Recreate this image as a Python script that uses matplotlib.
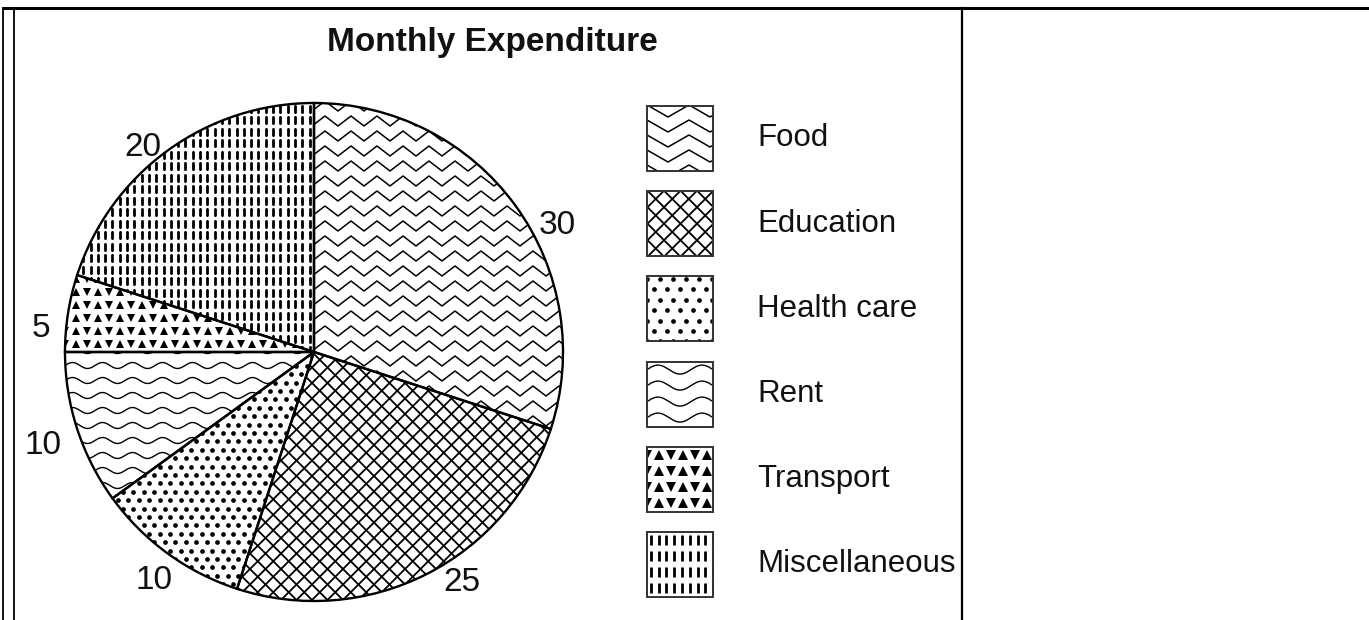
import numpy as np
import matplotlib
matplotlib.use('Agg')
import matplotlib.pyplot as plt
from matplotlib.patches import Rectangle

# chart data
categories = ['Food', 'Education', 'Health care', 'Rent', 'Transport', 'Miscellaneous']
shares = [30, 25, 10, 10, 5, 20]
title = 'Monthly Expenditure'

# label placement (angle shift from wedge middle, distance as fraction of radius)
label_shift = [-8.6, 5.6, 1, 1, 4, 4]
label_dist = [1.10, 1.10, 1.12, 1.15, 1.10, 1.07]

W, H = 1369, 620
narrow = ['Liberation Sans Narrow', 'Liberation Sans']

fig = plt.figure(figsize=(W / 100, H / 100), dpi=100)
ax = fig.add_axes([0, 0, 1, 1])


def keep(artist, clip):
    artist.set_clip_path(clip)
    return artist


def zigzag(box, clip, period, amp, gap, lw=1.1):
    x0, y0, x1, y1 = box
    xs = np.arange(x0 - period, x1 + period, period / 2)
    sign = np.where(np.arange(len(xs)) % 2 == 0, 0.5, -0.5)
    for yb in np.arange(y0 - gap, y1 + gap, gap):
        ln, = ax.plot(xs, yb + sign * amp, color='k', lw=lw, zorder=2)
        keep(ln, clip)


def cross(box, clip, step, lw=1.3):
    x0, y0, x1, y1 = box
    h = y1 - y0
    for c in np.arange(x0 - h, x1 + step, step):
        a, = ax.plot([c, c + h], [y0, y1], color='k', lw=lw, zorder=2)
        b, = ax.plot([c, c + h], [y1, y0], color='k', lw=lw, zorder=2)
        keep(a, clip)
        keep(b, clip)


def dots(box, clip, gap, ms):
    x0, y0, x1, y1 = box
    for i, yb in enumerate(np.arange(y0, y1 + gap, gap * 0.8)):
        xs = np.arange(x0 + (i % 2) * gap / 2, x1 + gap, gap)
        ln, = ax.plot(xs, np.full(len(xs), yb), 'o', color='k', ms=ms, mew=0, zorder=2)
        keep(ln, clip)


def waves(box, clip, period, amp, gap, lw=1.0):
    x0, y0, x1, y1 = box
    xs = np.linspace(x0, x1, 600)
    for yb in np.arange(y1 - gap / 2, y0 - gap, -gap):
        ln, = ax.plot(xs, yb + amp / 2 * np.sin(2 * np.pi * (xs - x0) / period),
                      color='k', lw=lw, zorder=2)
        keep(ln, clip)


def triangles(box, clip, dx, gap, ms):
    x0, y0, x1, y1 = box
    xs = np.arange(x0, x1 + dx, dx)
    for yb in np.arange(y1 - gap / 2, y0 - gap, -gap):
        down, = ax.plot(xs[0::2], np.full(len(xs[0::2]), yb), 'v', color='k',
                        ms=ms, mew=0, zorder=2)
        up, = ax.plot(xs[1::2], np.full(len(xs[1::2]), yb), '^', color='k',
                      ms=ms, mew=0, zorder=2)
        keep(down, clip)
        keep(up, clip)


def dashes(box, clip, dx, gap, ms, mew):
    x0, y0, x1, y1 = box
    for yb in np.arange(y1 - gap / 2, y0 - gap, -gap):
        xs = np.arange(x0 + dx / 2, x1 + dx, dx)
        ln, = ax.plot(xs, np.full(len(xs), yb), '|', color='k', ms=ms, mew=mew, zorder=2)
        keep(ln, clip)


def fill_pattern(name, box, clip, big=False):
    if name == 'Food':
        if big:
            zigzag(box, clip, 42, 12, 15)
        else:
            zigzag(box, clip, 26, 10, 15)
    elif name == 'Education':
        cross(box, clip, 16.5 if big else 15.5)
    elif name == 'Health care':
        dots(box, clip, 13 if big else 10.5, 3.4)
    elif name == 'Rent':
        if big:
            waves(box, clip, 44, 9, 16)
        else:
            waves(box, clip, 30, 6, 15)
    elif name == 'Transport':
        if big:
            triangles(box, clip, 12, 16, 6.5)
        else:
            triangles(box, clip, 11, 13, 5.5)
    else:
        if big:
            dashes(box, clip, 7.8, 16, 7, 2.0)
        else:
            dashes(box, clip, 7.3, 11.5, 6, 2.0)


# pie
cx, cy, r = 314, H - 352, 249
wedges, _ = ax.pie(shares, startangle=90, counterclock=False, center=(cx, cy), radius=r,
                   wedgeprops=dict(facecolor='none', edgecolor='black', linewidth=1.7, zorder=3))
pie_box = (cx - r, cy - r, cx + r, cy + r)
for w, name, val, sh, d in zip(wedges, categories, shares, label_shift, label_dist):
    fill_pattern(name, pie_box, w)
    ang = np.deg2rad((w.theta1 + w.theta2) / 2 + sh)
    ax.text(cx + d * r * np.cos(ang), cy + d * r * np.sin(ang), str(val),
            ha='center', va='center', fontsize=24, family=narrow, color='#111111')

# legend
box_x, box_w, box_h = 647, 66, 65
for i, name in enumerate(categories):
    top = 106 + i * 85.2
    y0 = H - top - box_h
    rect = Rectangle((box_x, y0), box_w, box_h, facecolor='none', edgecolor='#333333',
                     lw=1.4, zorder=3)
    ax.add_patch(rect)
    fill_pattern(name, (box_x, y0, box_x + box_w, y0 + box_h), rect, big=True)
    ax.text(757, y0 + box_h / 2, name, ha='left', va='center', fontsize=22.5,
            family=narrow, color='#111111')

ax.text(492, H - 42, title, ha='center', va='center', fontsize=24, fontweight='bold',
        family='Liberation Sans', color='#111111')

# table borders
ax.plot([2, W], [H - 8, H - 8], color='k', lw=2.2, solid_capstyle='butt')
ax.plot([3, 3], [0, H - 8], color='k', lw=1.3)
ax.plot([14, 14], [0, H - 8], color='k', lw=1.3)
ax.plot([962, 962], [0, H - 8], color='k', lw=1.6)

ax.set_xlim(0, W)
ax.set_ylim(0, H)
ax.set_aspect('auto')
ax.axis('off')

fig.savefig('out.png', dpi=100, facecolor='white')
